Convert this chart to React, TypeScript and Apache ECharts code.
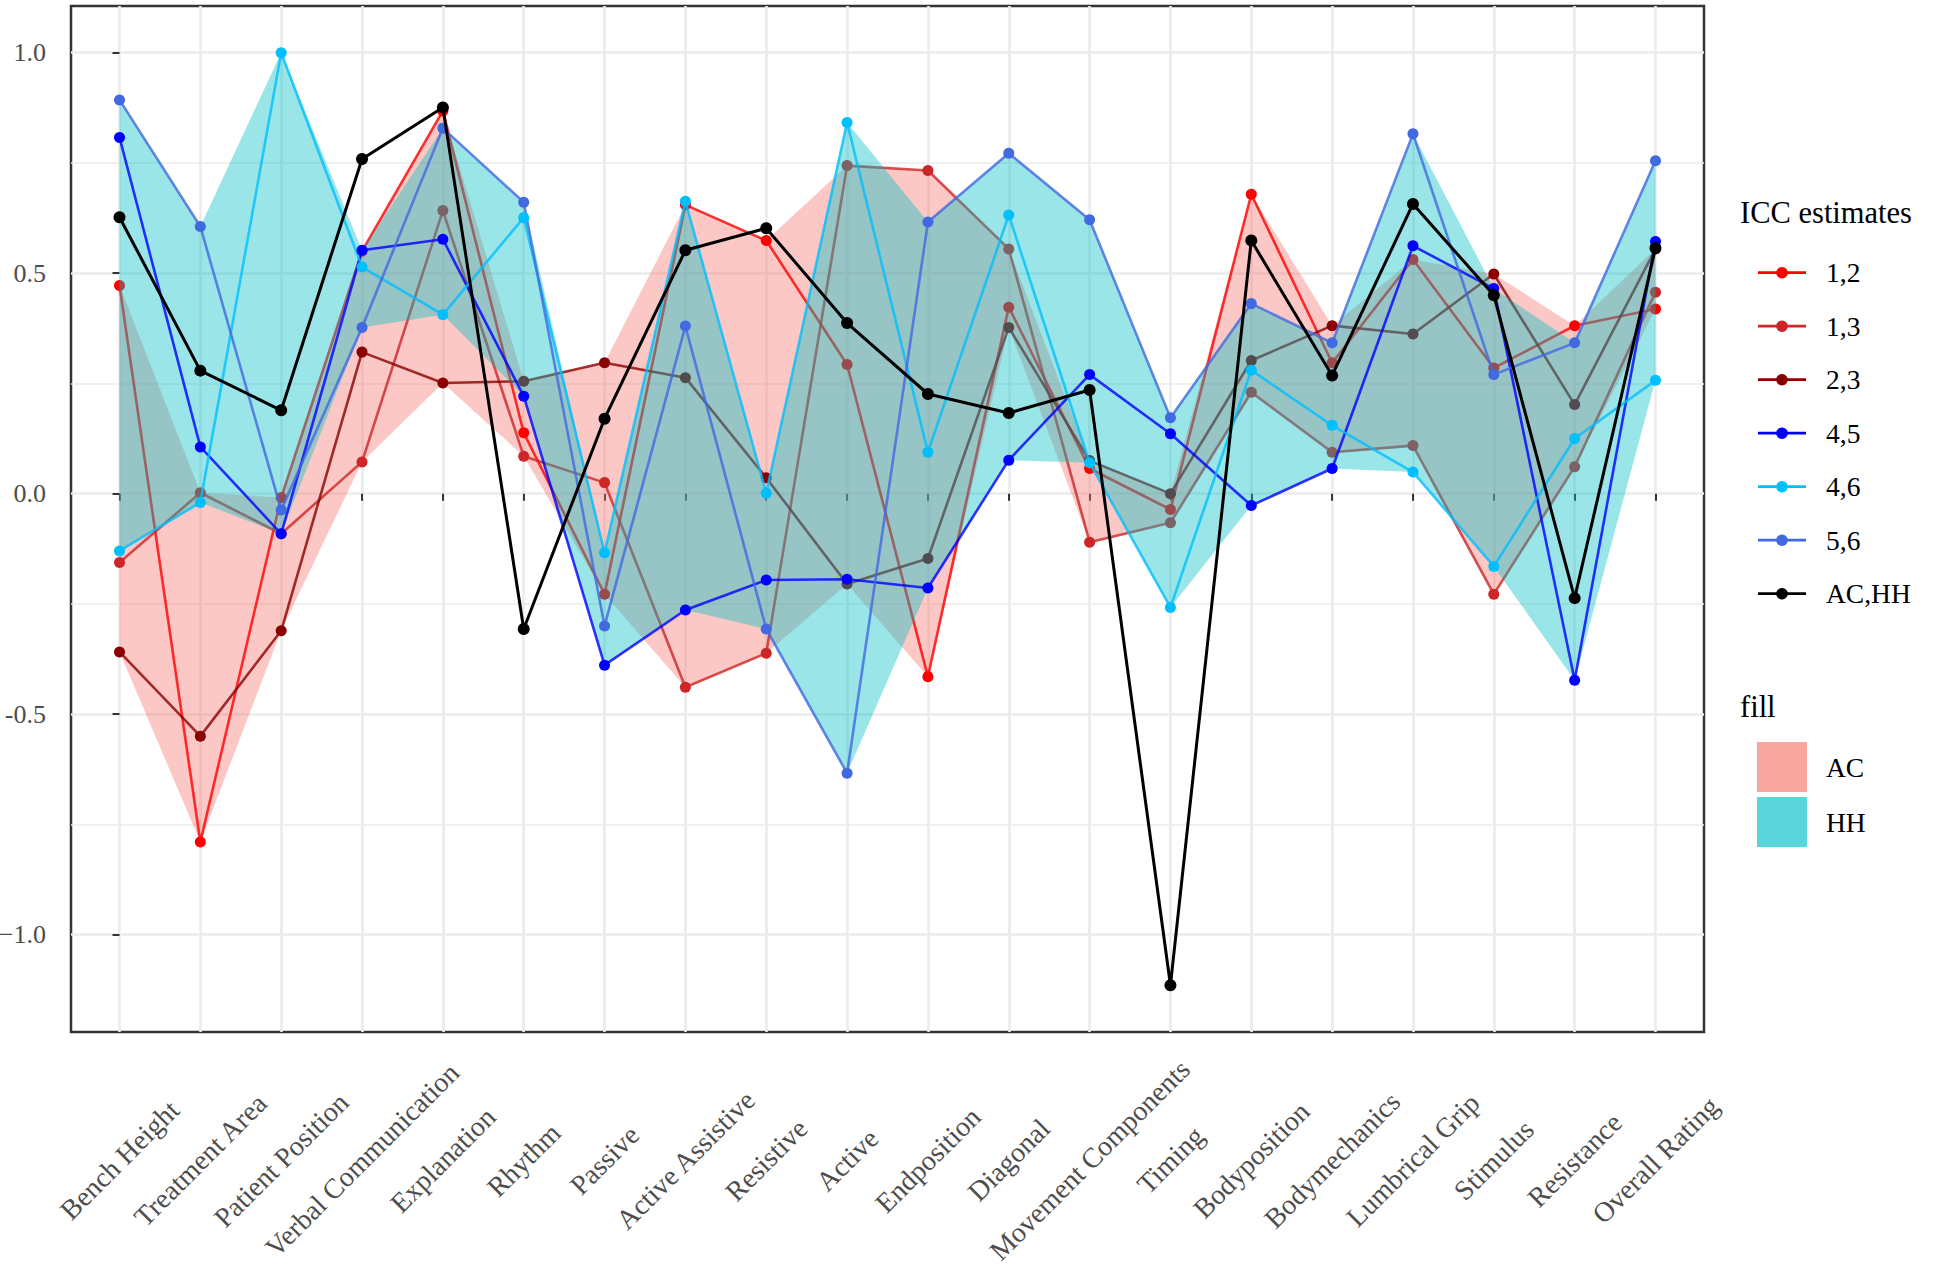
import React, { useEffect, useRef } from "react";
import * as echarts from "echarts";

const categories = [
  "Bench Height", "Treatment Area", "Patient Position", "Verbal Communication", "Explanation",
  "Rhythm", "Passive", "Active Assistive", "Resistive", "Active", "Endposition", "Diagonal",
  "Movement Components", "Timing", "Bodyposition", "Bodymechanics", "Lumbrical Grip",
  "Stimulus", "Resistance", "Overall Rating",
];

const icc12 = [0.472, -0.79, -0.009, 0.55, 0.868, 0.138, -0.228, 0.655, 0.574, 0.293, -0.415, 0.423, 0.057, -0.036, 0.679, 0.297, 0.531, 0.285, 0.381, 0.419];
const icc13 = [-0.156, 0.002, -0.091, 0.072, 0.642, 0.085, 0.025, -0.439, -0.362, 0.744, 0.733, 0.555, -0.11, -0.066, 0.23, 0.094, 0.109, -0.228, 0.061, 0.457];
const icc23 = [-0.359, -0.55, -0.311, 0.321, 0.251, 0.255, 0.297, 0.263, 0.036, -0.205, -0.147, 0.377, 0.075, 0.0, 0.302, 0.381, 0.362, 0.498, 0.202, 0.555];
const icc45 = [0.808, 0.106, -0.091, 0.552, 0.577, 0.221, -0.389, -0.264, -0.196, -0.194, -0.214, 0.076, 0.27, 0.136, -0.027, 0.057, 0.562, 0.465, -0.423, 0.572];
const icc46 = [-0.13, -0.02, 1.0, 0.514, 0.406, 0.626, -0.134, 0.663, 0.001, 0.842, 0.094, 0.632, 0.07, -0.258, 0.28, 0.155, 0.049, -0.165, 0.125, 0.257];
const icc56 = [0.893, 0.606, -0.037, 0.377, 0.829, 0.661, -0.3, 0.38, -0.307, -0.634, 0.616, 0.772, 0.621, 0.172, 0.431, 0.342, 0.816, 0.27, 0.342, 0.755];
const iccACHH = [0.627, 0.279, 0.189, 0.759, 0.876, -0.307, 0.17, 0.552, 0.602, 0.387, 0.226, 0.183, 0.235, -1.115, 0.574, 0.268, 0.657, 0.45, -0.237, 0.557];

const yMajorValues = [-1, -0.5, 0, 0.5, 1];
const yMajorLabels = ["\u22121.0", "-0.5", "0.0", "0.5", "1.0"];
const yMinorValues = [-0.75, -0.25, 0.25, 0.75];

const seriesNames = ["1,2", "1,3", "2,3", "4,5", "4,6", "5,6", "AC,HH"];
const seriesColors = ["#FF0000", "#CD2626", "#8B0000", "#0000FF", "#00BFFF", "#4169E1", "#000000"];
const seriesValues = [icc12, icc13, icc23, icc45, icc46, icc56, iccACHH];
const fillNames = ["AC", "HH"];
const fillColors = ["#F8766D", "#00BFC4"];
const fillKeyColors = ["#F9A6A0", "#5AD5D9"];

const FONT = '"Liberation Serif", "Times New Roman", serif';

function App() {
  const ref = useRef<HTMLDivElement>(null);

  useEffect(() => {
    if (!ref.current) return;
    const chart = echarts.init(ref.current, null, { renderer: "svg" });

    const acMin = icc12.map((_, i) => Math.min(icc12[i], icc13[i], icc23[i]));
    const acMax = icc12.map((_, i) => Math.max(icc12[i], icc13[i], icc23[i]));
    const hhMin = icc45.map((_, i) => Math.min(icc45[i], icc46[i], icc56[i]));
    const hhMax = icc45.map((_, i) => Math.max(icc45[i], icc46[i], icc56[i]));

    const ribbon = (name: string, lo: number[], hi: number[], color: string, z: number) => ({
      type: "custom",
      name,
      z,
      silent: true,
      data: [[0, 0]],
      renderItem: (_params: any, api: any) => {
        const upper = hi.map((v, i) => api.coord([i, v]));
        const lower = lo.map((v, i) => api.coord([i, v])).reverse();
        return {
          type: "polygon",
          shape: { points: upper.concat(lower) },
          style: { fill: color, opacity: 0.4 },
        };
      },
    });

    const lineSeries = (idx: number, z: number) => ({
      type: "line",
      name: seriesNames[idx],
      z,
      silent: true,
      data: seriesValues[idx].map((v, i) => [i, v]),
      symbol: "circle",
      symbolSize: idx === 6 ? 12 : 11,
      showSymbol: true,
      lineStyle: { color: seriesColors[idx], width: idx === 6 ? 3 : 2.6, opacity: idx === 6 ? 1 : 0.8 },
      itemStyle: { color: seriesColors[idx], opacity: 1 },
      emphasis: { disabled: true },
    });

    const xIdx = categories.map((_, i) => i);

    // legend graphics
    const legendX = 1740;
    const keyX1 = 1758;
    const keyX2 = 1806;
    const labelX = 1826;
    const rowY0 = 272.7;
    const rowStep = 53.5;
    const graphic: any[] = [
      {
        type: "text",
        x: legendX,
        y: 213,
        style: { text: "ICC estimates", font: `30.5px ${FONT}`, fill: "#000", verticalAlign: "middle", align: "left" },
      },
    ];
    seriesNames.forEach((n, i) => {
      const y = rowY0 + i * rowStep;
      graphic.push({
        type: "line",
        shape: { x1: keyX1, y1: y, x2: keyX2, y2: y },
        style: { stroke: seriesColors[i], lineWidth: 2.8 },
      });
      graphic.push({
        type: "circle",
        shape: { cx: (keyX1 + keyX2) / 2, cy: y, r: 5.8 },
        style: { fill: seriesColors[i] },
      });
      graphic.push({
        type: "text",
        x: labelX,
        y,
        style: { text: n, font: `27.5px ${FONT}`, fill: "#000", verticalAlign: "middle", align: "left" },
      });
    });
    graphic.push({
      type: "text",
      x: legendX,
      y: 707,
      style: { text: "fill", font: `30.5px ${FONT}`, fill: "#000", verticalAlign: "middle", align: "left" },
    });
    fillNames.forEach((n, i) => {
      const top = 742 + i * 55;
      graphic.push({
        type: "rect",
        shape: { x: 1757, y: top, width: 50, height: 50 },
        style: { fill: fillKeyColors[i] },
      });
      graphic.push({
        type: "text",
        x: labelX,
        y: top + 25,
        style: { text: n, font: `27.5px ${FONT}`, fill: "#000", verticalAlign: "middle", align: "left" },
      });
    });

    const option: any = {
      animation: false,
      backgroundColor: "#FFFFFF",
      grid: {
        left: 71,
        top: 6,
        width: 1633,
        height: 1026,
        show: true,
        containLabel: false,
        outerBoundsMode: "none",
        borderColor: "#333333",
        borderWidth: 2.5,
        backgroundColor: "transparent",
      },
      xAxis: {
        type: "value",
        min: -0.6,
        max: 19.6,
        axisLine: { show: false },
        axisTick: {
          show: true,
          customValues: xIdx,
          length: 7,
          lineStyle: { color: "#333333", width: 2 },
        },
        axisLabel: {
          customValues: xIdx,
          formatter: (v: number) => categories[Math.round(v)] ?? "",
          rotate: 45,
          align: "center",
          verticalAlign: "middle",
          margin: 128,
          fontFamily: FONT,
          fontSize: 28,
          color: "#4D4D4D",
        },
        splitLine: { show: true, lineStyle: { color: "#EBEBEB", width: 2.6 } },
      },
      yAxis: [
        {
          type: "value",
          min: -1.221,
          max: 1.106,
          axisLine: { show: false },
          axisTick: {
            show: true,
            customValues: yMajorValues,
            length: 7,
            lineStyle: { color: "#333333", width: 2 },
          },
          axisLabel: {
            customValues: yMajorValues,
            formatter: (v: number) => {
              const k = yMajorValues.findIndex((t) => Math.abs(t - v) < 1e-6);
              return k >= 0 ? yMajorLabels[k] : "";
            },
            margin: 25,
            fontFamily: FONT,
            fontSize: 26,
            color: "#4D4D4D",
          },
          splitLine: { show: true, lineStyle: { color: "#EBEBEB", width: 2.6 } },
        },
        {
          type: "value",
          min: -1.221,
          max: 1.106,
          position: "left",
          axisLine: { show: false },
          axisTick: { show: false, customValues: yMinorValues },
          axisLabel: { show: false, customValues: yMinorValues },
          splitLine: { show: true, lineStyle: { color: "#EBEBEB", width: 1.6 } },
        },
      ],
      series: [
        ribbon("AC", acMin, acMax, fillColors[0], 1),
        lineSeries(0, 2),
        lineSeries(1, 2),
        lineSeries(2, 2),
        ribbon("HH", hhMin, hhMax, fillColors[1], 3),
        lineSeries(3, 4),
        lineSeries(4, 4),
        lineSeries(5, 4),
        lineSeries(6, 5),
      ],
      graphic,
    };

    chart.setOption(option);
    return () => {
      chart.dispose();
    };
  }, []);

  return (
    <div
      ref={ref}
      style={{ position: "absolute", left: 0, top: 0, width: 1952, height: 1268, background: "#fff" }}
    />
  );
}

export default App;
